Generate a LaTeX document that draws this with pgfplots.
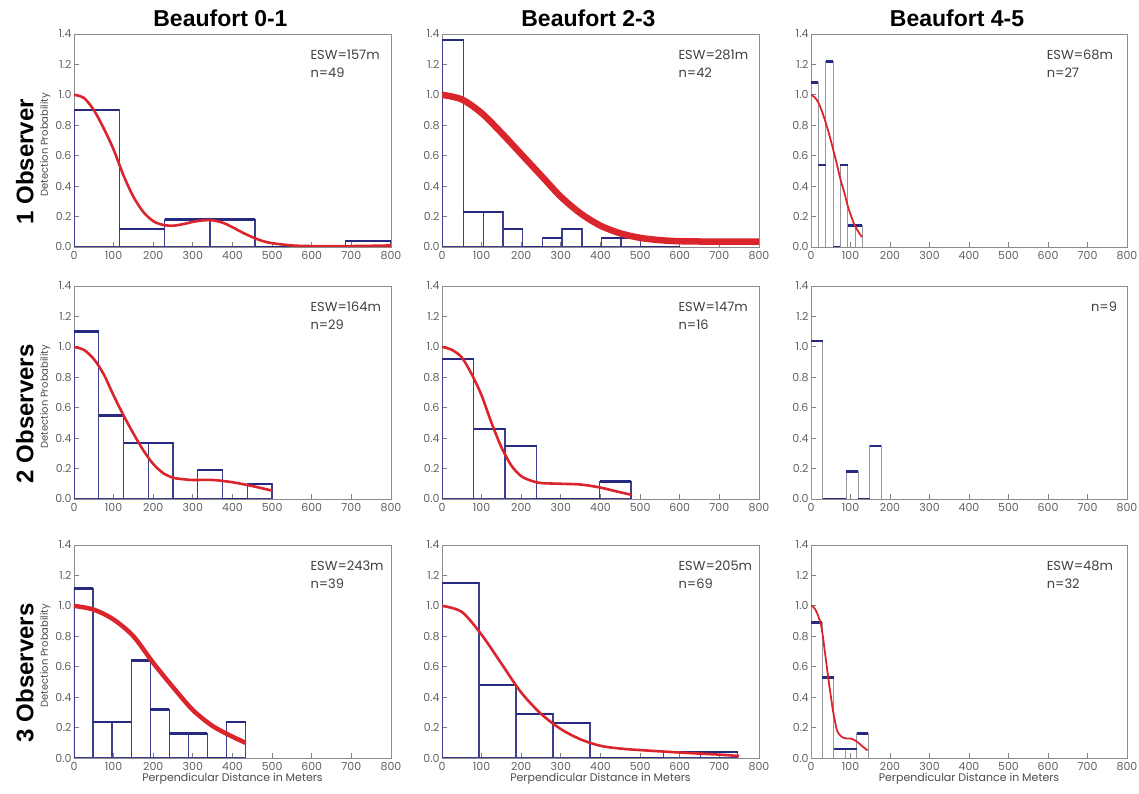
\documentclass[border=0pt]{standalone}
\usepackage{pgfplots}
\usepackage{pgfplotstable}
\pgfplotsset{compat=1.18}
\usepackage{fontspec}
\setmainfont{Poppins}
\newfontfamily\headfont{Liberation Sans}

\definecolor{navy}{RGB}{38,42,128}
\definecolor{vnavy}{RGB}{60,64,140}
\definecolor{fitred}{RGB}{218,37,45}
\definecolor{vgray}{RGB}{150,150,160}

% ---------- histograms: left edge, value (last row = right edge) ----------
\pgfplotstableread{
x y
0 0.90
114.3 0.12
228.6 0.18
342.9 0.18
457.1 0.0
571.4 0.0
685.7 0.04
800 0.04
}\barsAA
\pgfplotstableread{
x y
0 1.36
54 0.23
104 0.23
154 0.12
204 0.0
254 0.06
303 0.12
353 0.0
402 0.06
452 0.06
501 0.0
551 0.0
600 0.0
}\barsAB
\pgfplotstableread{
x y
0 1.08
18.6 0.54
37.1 1.22
55.7 0.0
74.3 0.54
92.9 0.14
111.4 0.14
130 0.14
}\barsAC
\pgfplotstableread{
x y
0 1.10
62.5 0.55
125 0.37
187.5 0.37
250 0.0
312.5 0.19
375 0.0
437.5 0.10
500 0.10
}\barsBA
\pgfplotstableread{
x y
0 0.92
79.5 0.46
159 0.35
238.5 0.0
318 0.0
397.5 0.115
477 0.115
}\barsBB
\pgfplotstableread{
x y
0 1.04
29.7 0.0
59.4 0.0
89.1 0.18
118.8 0.0
148.5 0.35
178.2 0.35
}\barsBC
\pgfplotstableread{
x y
0 1.115
48.1 0.235
96.2 0.235
144.3 0.64
192.4 0.32
240.5 0.16
288.6 0.16
336.7 0.0
384.8 0.235
432.9 0.235
}\barsCA
\pgfplotstableread{
x y
0 1.15
93.3 0.48
186.6 0.29
279.9 0.23
373.2 0.0
466.5 0.0
559.8 0.04
653.1 0.04
746.4 0.04
}\barsCB
\pgfplotstableread{
x y
0 0.89
28.9 0.53
57.8 0.06
86.7 0.06
115.6 0.16
144.5 0.16
}\barsCC

% ---------- fitted detection curves ----------
\pgfplotstableread{
x y
0 1.0
25 0.98
50 0.9
75 0.78
100 0.64
125 0.47
150 0.33
175 0.23
200 0.17
225 0.145
250 0.14
275 0.15
300 0.165
325 0.175
350 0.175
375 0.16
400 0.13
425 0.095
450 0.065
475 0.04
500 0.025
550 0.01
600 0.006
700 0.006
800 0.01
}\fitAA
\pgfplotstableread{
x y
0 1.0
50 0.97
100 0.88
150 0.75
200 0.61
250 0.47
300 0.33
350 0.22
400 0.14
450 0.09
500 0.06
550 0.045
600 0.038
700 0.035
800 0.035
}\fitAB
\pgfplotstableread{
x y
0 1.0
9 0.985
18.6 0.95
28 0.89
37 0.82
46 0.74
55.7 0.645
65 0.55
74 0.45
84 0.36
93 0.27
102 0.2
111 0.14
120 0.1
129 0.065
}\fitAC
\pgfplotstableread{
x y
0 1.0
25 0.98
50 0.92
75 0.82
100 0.68
125 0.55
150 0.43
175 0.32
200 0.23
225 0.17
250 0.14
275 0.13
300 0.125
350 0.125
400 0.11
450 0.085
500 0.055
}\fitBA
\pgfplotstableread{
x y
0 1.0
25 0.98
50 0.93
75 0.82
100 0.68
125 0.5
150 0.34
175 0.22
200 0.15
225 0.12
250 0.105
300 0.1
350 0.095
400 0.075
440 0.05
477 0.028
}\fitBB
\pgfplotstableread{
x y
0 1.0
50 0.975
100 0.91
150 0.8
200 0.625
250 0.465
300 0.315
350 0.21
400 0.14
433 0.1
}\fitCA
\pgfplotstableread{
x y
0 1.0
50 0.96
100 0.81
150 0.62
200 0.43
250 0.29
300 0.19
350 0.122
400 0.08
450 0.062
500 0.052
600 0.036
700 0.022
750 0.013
}\fitCB
\pgfplotstableread{
x y
0 1.0
5 0.995
10 0.98
15 0.955
20 0.92
25 0.88
30 0.8
35 0.7
40 0.6
45 0.5
50 0.41
55 0.32
60 0.25
65 0.19
70 0.16
80 0.135
90 0.128
100 0.128
110 0.118
120 0.1
130 0.077
143 0.05
}\fitCC

\pgfplotsset{
  panel/.style={
    scale only axis, width=317pt, height=213pt,
    anchor=south west,
    xmin=0, xmax=800, ymin=0, ymax=1.4,
    xtick={0,100,...,800},
    ytick={0,0.2,0.4,0.6,0.8,1.0,1.2,1.4},
    yticklabel style={xshift=1pt, /pgf/number format/.cd, fixed, fixed zerofill, precision=1},
    /pgf/number format/assume math mode=true,
    ticklabel style={font=\fontsize{11}{13}\selectfont, text=black!62},
    xticklabel style={yshift=-0.5pt},
    axis line style={black!45, line width=0.8pt},
    tick style={black!50, line width=0.8pt},
    major tick length=5pt,
    tick align=inside,
    tick pos=left,
    clip mode=individual,
  },
  hbar/.style={ybar interval, draw=vnavy, line width=1.3pt, fill=none},
  hbarg/.style={ybar interval, draw=vgray, line width=0.8pt, fill=none},
  htop/.style={jump mark left, draw=navy, line width=2.4pt},
  fit/.style={smooth, draw=fitred, line width=#1},
}
\newcommand{\ann}{\fontsize{13}{15}\selectfont\color{black!75}}
\newcommand{\ttl}[1]{\node[font=\headfont\bfseries\fontsize{23}{26}\selectfont] at (rel axis cs:0.462,1.072) {#1};}
\newcommand{\rowl}[1]{\node[rotate=90, font=\headfont\bfseries\fontsize{24}{26}\selectfont] at (rel axis cs:-0.155,0.40) {#1};
  \node[rotate=90, font=\fontsize{10}{12}\selectfont, text=black!70] at (rel axis cs:-0.09,0.48) {Detection Probability};}
\newcommand{\xl}{\node[font=\fontsize{11}{13}\selectfont, text=black!70] at (rel axis cs:0.5,-0.098) {Perpendicular Distance in Meters};}
\newcommand{\esw}[2]{\node[anchor=west, font=\ann] at (axis cs:588,1.265) {#1};
  \node[anchor=west, font=\ann] at (axis cs:588,1.145) {#2};}

\begin{document}
\begin{tikzpicture}
\path[use as bounding box] (0,0) rectangle (1139pt,794pt);

% ---------------- row 1 ----------------
\begin{axis}[panel, at={(74pt,547pt)}]
\addplot[hbar] table {\barsAA};
\addplot[htop] table {\barsAA};
\addplot[fit=2.6pt] table {\fitAA};
\esw{ESW=157m}{n=49}
\ttl{Beaufort 0-1}
\rowl{1 Observer}
\end{axis}

\begin{axis}[panel, at={(442pt,547pt)}]
\addplot[hbar] table {\barsAB};
\addplot[htop] table {\barsAB};
\addplot[fit=6.5pt] table {\fitAB};
\esw{ESW=281m}{n=42}
\ttl{Beaufort 2-3}
\end{axis}

\begin{axis}[panel, at={(811pt,547pt)}, width=316pt]
\addplot[hbarg] table {\barsAC};
\addplot[htop] table {\barsAC};
\addplot[fit=1.8pt] table {\fitAC};
\esw{ESW=68m}{n=27}
\ttl{Beaufort 4-5}
\end{axis}

% ---------------- row 2 ----------------
\begin{axis}[panel, at={(74pt,295pt)}]
\addplot[hbar] table {\barsBA};
\addplot[htop] table {\barsBA};
\addplot[fit=2.6pt] table {\fitBA};
\esw{ESW=164m}{n=29}
\rowl{2 Observers}
\end{axis}

\begin{axis}[panel, at={(442pt,295pt)}]
\addplot[hbar] table {\barsBB};
\addplot[htop] table {\barsBB};
\addplot[fit=2.6pt] table {\fitBB};
\esw{ESW=147m}{n=16}
\end{axis}

\begin{axis}[panel, at={(811pt,295pt)}, width=316pt]
\addplot[hbarg] table {\barsBC};
\addplot[htop] table {\barsBC};
\node[anchor=west, font=\ann] at (axis cs:700,1.265) {n=9};
\end{axis}

% ---------------- row 3 ----------------
\begin{axis}[panel, at={(74pt,36pt)}]
\addplot[hbar] table {\barsCA};
\addplot[htop] table {\barsCA};
\addplot[fit=4.5pt] table {\fitCA};
\esw{ESW=243m}{n=39}
\rowl{3 Observers}
\xl
\end{axis}

\begin{axis}[panel, at={(442pt,36pt)}]
\addplot[hbar] table {\barsCB};
\addplot[htop] table {\barsCB};
\addplot[fit=2.6pt] table {\fitCB};
\esw{ESW=205m}{n=69}
\xl
\end{axis}

\begin{axis}[panel, at={(811pt,36pt)}, width=316pt]
\addplot[hbarg] table {\barsCC};
\addplot[htop] table {\barsCC};
\addplot[fit=1.8pt] table {\fitCC};
\esw{ESW=48m}{n=32}
\xl
\end{axis}
\end{tikzpicture}
\end{document}
